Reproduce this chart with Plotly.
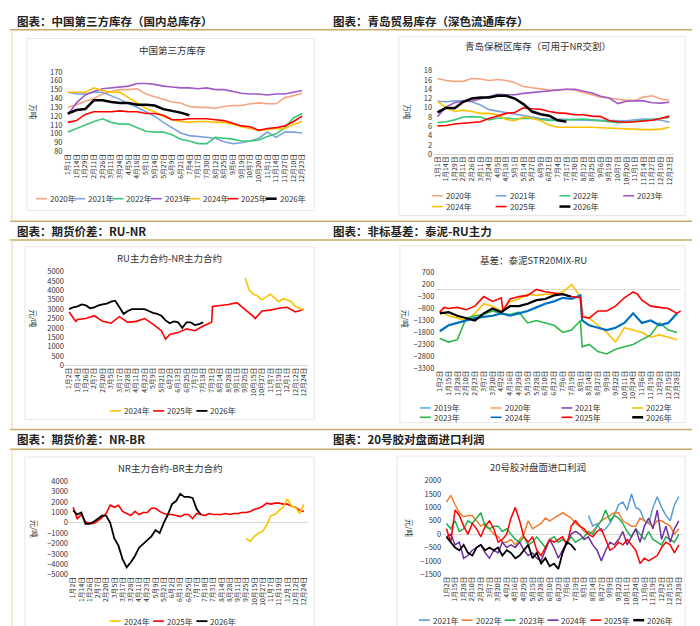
import plotly.graph_objects as go
import numpy as np

W, H = 700, 626

# ---------- data ----------
days_a = ['1月1日','1月14日','1月29日','2月11日','2月26日','3月11日','3月24日','4月5日','4月18日','5月1日',
          '5月14日','5月27日','6月9日','6月21日','7月4日','7月17日','7月30日','8月12日','8月25日','9月6日',
          '9月19日','10月7日','10月20日','11月1日','11月14日','11月27日','12月10日','12月23日']
days_b = ['1月2日','1月14日','1月26日','2月7日','2月20日','3月5日','3月17日','3月28日','4月11日','4月23日',
          '5月9日','5月21日','6月2日','6月13日','6月25日','7月7日','7月18日','7月31日','8月14日','8月28日',
          '9月11日','9月25日','10月15日','10月27日','11月7日','11月19日','12月1日','12月12日','12月24日']
days_c = ['1月2日','1月15日','1月28日','2月10日','2月23日','3月7日','3月20日','4月2日','4月16日','4月29日',
          '5月15日','5月28日','6月10日','6月23日','7月6日','7月19日','8月1日','8月14日','8月27日','9月9日',
          '9月22日','10月11日','10月24日','11月6日','11月19日','12月2日','12月15日','12月28日']

# 1: China third-party inventory (万吨)
inv_cn = {
    '2020年': [130,133,137,140,145,148,150,150,151,145,142,139,136,135,131,130,130,129,131,132,132,134,135,134,134,141,143,146],
    '2021年': [147,145,145,147,147,143,139,134,130,125,120,113,107,101,98,97,96,95,91,89,90,92,95,102,96,102,102,101],
    '2022年': [102,106,110,114,117,113,111,111,107,103,102,102,99,94,92,89,89,96,95,94,92,92,93,97,100,107,118,123],
    '2023年': [122,135,144,148,151,152,153,154,157,157,156,154,153,152,152,151,152,150,150,148,146,145,145,144,145,145,147,149],
    '2024年': [147,147,147,152,149,147,147,141,135,129,125,120,116,114,113,114,114,113,113,111,108,106,104,105,106,106,111,114],
    '2025年': [113,115,122,125,125,125,126,125,125,123,123,121,116,116,117,117,117,116,115,112,109,108,104,106,107,109,114,120],
    '2026年': [123,127,128,138,138,136,135,135,133,133,132,128,126,124,121],
}
# 2: Qingdao bonded inventory (万吨)
inv_qd = {
    '2020年': [16.3,15.9,15.7,15.7,16.3,16.2,15.9,16.1,15.9,15.4,14.6,14.3,14.1,13.8,13.9,14.0,13.8,13.3,12.8,12.3,12.1,11.9,11.6,11.6,12.3,12.6,11.9,11.6],
    '2021年': [11.4,11.3,11.5,11.5,11.3,10.6,9.6,9.3,8.9,8.6,8.4,8.1,7.7,7.6,7.6,7.5,7.4,7.3,7.3,7.3,7.3,7.2,7.2,7.4,7.6,7.5,7.3,6.9],
    '2022年': [6.8,7.0,7.4,8.0,8.1,8.0,7.4,7.8,7.8,7.6,7.7,7.7,7.5,7.3,7.3,7.4,7.6,7.6,7.4,7.2,7.0,6.8,6.9,7.1,7.3,7.4,7.7,7.9],
    '2023年': [8.1,10.2,11.1,11.4,11.4,11.9,12.4,12.9,12.8,12.8,13.1,13.3,13.4,13.7,13.9,14.0,14.0,13.6,13.2,12.5,12.1,10.9,11.4,11.5,11.5,11.1,11.0,11.2],
    '2024年': [11.4,10.1,9.2,9.5,9.2,8.8,8.8,8.5,7.5,7.2,8.0,7.8,7.2,6.3,5.8,5.8,5.9,5.9,5.8,5.7,5.6,5.6,5.5,5.4,5.3,5.3,5.4,5.8],
    '2025年': [6.1,6.2,6.5,6.7,6.9,7.0,7.7,8.2,8.8,9.0,10.0,9.8,9.7,9.2,8.9,8.8,8.5,8.5,8.2,8.1,7.2,7.0,6.9,7.0,7.1,7.3,7.7,8.2],
    '2026年': [9.0,10.0,9.9,11.3,12.0,12.2,12.2,12.6,12.6,12.0,10.8,9.2,8.6,8.3,7.3,7.0],
}
# 3: RU-NR spread (元/吨)
runr_2025_x = [0,0.8,1,2,3,4,5,6,7,8,9,10,11,11.5,12,13,14,15,16,17,17.1,18,19,20,21,22,22.2,23,24,25,26,27,28]
runr_2025 = [2850,2350,2450,2500,2650,2350,2250,2600,2300,2350,2500,2200,1850,1400,1650,1750,1950,1850,2100,2300,3150,
             3200,3250,3350,3000,2600,2500,2900,2950,3050,3100,2850,3000]
runr_2024 = [4650,4000,3800,3700,3500,3650,3800,3600,3400,3550,3500,3400,3150,3050,2950]   # from 9月25日, half steps
runr_2026 = [3000,3100,3150,3250,3200,3050,3100,3200,3250,3300,3400,3450,3100,2750,2900,3000,3000,3000,3000,2900,
             2800,2750,2650,2400,2250,2350,2300,2000,2300,2300,2150,2200,2300]
# 4: basis STR20MIX-RU (元/吨)
bx_a = sorted(list(range(0, 17)) + [16.2] + list(range(17, 28)))
basis = {
    '2019年': ([], []),
    '2020年': ([], []),
    '2021年': ([], []),
    '2022年': (sorted(list(range(0, 17)) + [16.3] + list(range(17, 28))),
              [-900,-1100,-1200,-1300,-1000,-600,-700,-900,-500,-400,-200,-250,-200,-200,-100,200,-300,
               -1100,-1200,-1500,-1800,-2200,-1600,-1700,-1800,-2000,-1900,-2000,-2100]),
    '2023年': (bx_a, [-2050,-2200,-2100,-1200,-1100,-1050,-900,-1000,-1050,-950,-1400,-1300,-1400,-1500,-1800,-1700,-1300,
                      -2400,-2300,-2600,-2700,-2500,-2400,-2300,-2100,-1900,-1400,-1700,-1800]),
    '2024年': (bx_a, [-1750,-1500,-1400,-1300,-1200,-1150,-1100,-1000,-1100,-1000,-900,-750,-600,-500,-350,-400,-250,
                      -1300,-1500,-1600,-1700,-1600,-1400,-1000,-1400,-1300,-1500,-1400,-1000]),
    '2025年': ([0,0.5,1,2,3,4,5,6,7,7.2,8,9,10,11,12,13,14,15,16,16.2,17,18,19,20,21,22,22.5,23,24,25,26,27,27.4],
              [-950,-750,-800,-750,-850,-700,-300,-500,-350,-900,-400,-300,-250,0,-100,-150,-200,-300,-350,-1150,
               -1200,-900,-900,-700,-350,-100,-200,-450,-700,-750,-800,-1000,-900]),
    '2026年': (list(range(0, 15)) + [14.9],
              [-1000,-950,-1100,-1200,-1300,-1000,-800,-950,-700,-700,-600,-450,-400,-250,-200,-300]),
}
# 5: NR-BR spread (元/吨), half steps
nrbr_2024 = [-1500,-1800,-1300,-1000,-800,-200,700,800,1200,1500,2300,1600,1500,900,1800]  # from 9月25日
nrbr_2025 = [1500,400,800,100,-50,-50,200,500,900,1700,1500,1700,1100,900,700,1100,800,1000,1000,1400,1400,1100,
             900,800,800,700,600,800,800,400,900,800,700,900,800,800,800,900,800,900,900,1000,1000,1100,1300,1400,
             1600,1900,1800,1900,1900,1800,1800,1600,1500,1200,1100]
nrbr_2026 = [1200,800,1000,-100,-100,100,400,700,700,0,-1500,-2200,-3500,-4300,-3800,-3200,-2400,-2000,-1600,
             -1300,-700,-1000,0,800,1800,2100,2800,2500,2500,2400,1300,800]
# 6: No.20 import profit (元/吨), half steps; (start index, values)
profit = {
    '2021年': (16.5, [700,300,400,100,200,400,700,1100,1200,900,1500,1000,900,500,400,1000,1400,1000,700,500,1100,1400]),
    '2022年': (0, [1200,1450,1100,800,650,700,700,500,300,400,200,0,-100,-300,-300,-200,-400,-200,0,500,200,300,400,600,
                   500,600,700,800,700,600,400,300,100,0,100,300,500,600,700,800,800,500,400,300,300,600,500,400,300,
                   500,500,400,300,0,200]),
    '2023年': (0, [400,200,500,100,200,500,400,600,800,300,200,300,300,100,200,0,-200,-300,-100,-400,-300,-100,-300,
                   -500,-200,-100,-300,-200,-300,-100,-300,-200,-100,100,0,300,500,900,500,700,600,400,100,-100,200,0,
                   -200,100,-200,-300,-400,-100,-200,-300,0]),
    '2024年': (0, [-100,0,-400,-300,-900,-800,-600,-500,-400,-700,-900,-600,-700,-300,-500,-400,-500,-300,-600,-800,
                   -700,-900,-1000,-600,-200,-500,-900,-600,-300,0,100,0,-200,-100,-400,-600,-1000,-600,-300,-400,-200,
                   100,-400,-100,200,-300,300,600,200,900,-200,300,-300,200,500]),
    '2025年': (0, [200,-300,900,700,300,0,400,200,-100,300,500,200,-300,-200,0,600,1000,500,-100,-300,-100,-600,-800,
                   -500,-200,-300,-200,-100,-400,300,500,300,200,0,-100,100,200,-200,-600,-500,-300,-400,-200,-400,-600,
                   -1100,-900,-1000,-900,-800,-500,-300,-400,-700,-400]),
    '2026年': (0, [-100,-300,-500,-600,-400,-700,-800,-500,-400,-600,-500,-600,-500,-800,-600,-700,-900,-800,-600,-400,
                   -900,-700,-1100,-900,-1200,-1100,-1300,-700,-300,-400,-600]),
}

c_inv = {'2020年': '#F4A582', '2021年': '#7BA3DC', '2022年': '#3CC87A', '2023年': '#A05AC8',
         '2024年': '#FFC000', '2025年': '#FF0000', '2026年': '#000000'}
c_basis = {'2019年': '#5BB0E8', '2020年': '#F4A460', '2021年': '#8E44AD', '2022年': '#FFC000',
           '2023年': '#2DB84B', '2024年': '#0070C0', '2025年': '#FF0000', '2026年': '#000000'}
c_prof = {'2021年': '#5B9BD5', '2022年': '#ED7D31', '2023年': '#22B04B', '2024年': '#7030A0',
          '2025年': '#FF0000', '2026年': '#000000'}

# ---------- helpers ----------
def px(x):
    return x / W

def py(y):
    return 1 - y / H

fig = go.Figure()
shapes, annos = [], []
FONT = 'Noto Sans CJK SC'

def add_axes(n, x_lo, x_hi, n_cat, labels, y_top, y_bot, v_top, v_bot, ticks):
    # x_lo/x_hi: pixel positions of first and last category
    step = (x_hi - x_lo) / (n_cat - 1)
    sfx = '' if n == 1 else str(n)
    fig.layout['xaxis' + sfx] = dict(
        domain=[px(x_lo - step / 2), px(x_hi + step / 2)], range=[-0.5, n_cat - 0.5], anchor='y' + sfx,
        tickvals=list(range(n_cat)), ticktext=labels, tickangle=-90, tickfont=dict(size=6.8, color='#333'),
        showgrid=False, zeroline=False, showline=False, ticks='', fixedrange=True)
    fig.layout['yaxis' + sfx] = dict(
        domain=[py(y_bot), py(y_top)], range=[v_bot, v_top], anchor='x' + sfx, tickvals=ticks,
        tickfont=dict(size=7.5, color='#333'), showgrid=False, zeroline=True, zerolinecolor='#D9D9D9',
        zerolinewidth=1, showline=False, ticks='', fixedrange=True)

def line(n, x, y, color, width=1.6):
    sfx = '' if n == 1 else str(n)
    fig.add_trace(go.Scatter(x=x, y=y, mode='lines', line=dict(color=color, width=width),
                             xaxis='x' + sfx, yaxis='y' + sfx, showlegend=False, hoverinfo='skip'))

def half(start, vals):
    return list(start + 0.5 * np.arange(len(vals)))

def legend(items, colors, x0, y0, dx, dy, ncol, blackw=2.5):
    for i, name in enumerate(items):
        x = x0 + (i % ncol) * dx
        y = y0 + (i // ncol) * dy
        w = blackw if colors[name] == '#000000' else 1.6
        shapes.append(dict(type='line', xref='paper', yref='paper', x0=px(x), x1=px(x + 11),
                           y0=py(y), y1=py(y), line=dict(color=colors[name], width=w)))
        annos.append(dict(text=name, x=px(x + 12), y=py(y), xref='paper', yref='paper', showarrow=False,
                          xanchor='left', yanchor='middle', font=dict(size=8, color='#333', family=FONT)))

def box(x0, y0, x1, y1):
    shapes.append(dict(type='rect', xref='paper', yref='paper', x0=px(x0), x1=px(x1), y0=py(y1), y1=py(y0),
                       line=dict(color='#E6E6E6', width=1), fillcolor='white', layer='below'))

def text(s, x, y, size, bold=False, angle=0, color='#333'):
    annos.append(dict(text='<b>%s</b>' % s if bold else s, x=px(x), y=py(y), xref='paper', yref='paper',
                      showarrow=False, xanchor='center' if not bold else 'left', yanchor='middle',
                      textangle=angle, font=dict(size=size, color=color, family=FONT)))

# ---------- panel 1 ----------
add_axes(1, 58, 293, 28, days_a, 59, 140, 170, 80, list(range(80, 171, 10)))
for k, v in inv_cn.items():
    line(1, list(range(len(v))), v, c_inv[k], 2.5 if k == '2026年' else 1.6)
box(17, 25, 305, 200)
text('中国第三方库存', 163, 37, 9.5)
text('万吨', 24, 100, 7.5, angle=90)
legend(list(inv_cn), c_inv, 26, 188, 38.4, 0, 7)

# ---------- panel 2 ----------
add_axes(2, 428.7, 661.3, 28, days_a, 57.7, 142.7, 18, 0, list(range(0, 19, 2)))
for k, v in inv_qd.items():
    line(2, list(range(len(v))), v, c_inv[k], 2.5 if k == '2026年' else 1.6)
box(390, 23, 677, 205)
text('青岛保税区库存（可用于NR交割）', 530, 33, 9.5)
text('万吨', 399, 100, 7.5, angle=90)
legend(list(inv_qd), c_inv, 423, 185, 64, 11, 4)

# ---------- panel 3 ----------
add_axes(3, 59.3, 294.7, 29, days_b, 262.3, 357.7, 5000, 0, list(range(0, 5001, 500)))
line(3, runr_2025_x, runr_2025, '#FF0000')
line(3, half(21, runr_2024), runr_2024, '#FFC000')
line(3, half(0, runr_2026), runr_2026, '#000000', 1.8)
box(15, 237, 305, 413)
text('RU主力合约-NR主力合约', 160, 248, 9.5)
text('元/吨', 24, 310, 7.5, angle=90)
legend(['2024年', '2025年', '2026年'], {'2024年': '#FFC000', '2025年': '#FF0000', '2026年': '#000000'},
       100, 404, 43.5, 0, 3, 1.8)

# ---------- panel 4 ----------
add_axes(4, 431, 669, 28, days_c, 263.3, 360.7, 700, -3300, list(range(-3300, 701, 500)))
for k in ['2019年', '2020年', '2021年', '2022年', '2023年', '2024年', '2025年', '2026年']:
    xs, ys = basis[k]
    if xs:
        line(4, xs, ys, c_basis[k], 2.2 if k in ('2026年', '2024年') else 1.6)
box(391, 236, 677, 416)
text('基差：泰泥STR20MIX-RU', 525, 250, 9.5)
text('元/吨', 397, 310, 7.5, angle=90)
legend(list(basis), c_basis, 411, 401, 71, 9.5, 4)

# ---------- panel 5 ----------
add_axes(5, 63.3, 294.7, 29, days_b, 475.7, 570.7, 4000, -5000, list(range(-5000, 4001, 1000)))
line(5, half(0, nrbr_2025), nrbr_2025, '#FF0000')
line(5, half(21, nrbr_2024), nrbr_2024, '#FFC000')
line(5, half(0, nrbr_2026), nrbr_2026, '#000000', 1.8)
box(15, 451, 305, 626)
text('NR主力合约-BR主力合约', 160, 462, 9.5)
text('元/吨', 24, 524, 7.5, angle=90)
legend(['2024年', '2025年', '2026年'], {'2024年': '#FFC000', '2025年': '#FF0000', '2026年': '#000000'},
       100, 618, 43.5, 0, 3, 1.8)

# ---------- panel 6 ----------
add_axes(6, 437.7, 670.7, 28, days_c, 475, 570.3, 2000, -1500, list(range(-1500, 2001, 500)))
for k, (s, v) in profit.items():
    line(6, half(s, v), v, c_prof[k], 1.8 if k == '2026年' else 1.5)
box(388, 450, 677, 626)
text('20号胶对盘面进口利润', 530, 461, 9.5)
text('元/吨', 400, 523, 7.5, angle=90)
legend(list(profit), c_prof, 410, 617, 43, 0, 6)

# ---------- page headers ----------
gold = '#C9A86A'
for y in [16, 211, 230, 423, 443]:
    shapes.append(dict(type='line', xref='paper', yref='paper', x0=0, x1=1, y0=py(y), y1=py(y),
                       line=dict(color=gold, width=1.5)))
for y in [(16, 211), (230, 423), (443, 626)]:
    for x in [2, 698]:
        shapes.append(dict(type='line', xref='paper', yref='paper', x0=px(x), x1=px(x), y0=py(y[0]), y1=py(y[1]),
                           line=dict(color='#E3D6B8', width=1)))
hdr = [('图表：中国第三方库存（国内总库存）', 5, 7), ('图表：青岛贸易库存（深色流通库存）', 322, 7),
       ('图表：期货价差：RU-NR', 5, 221), ('图表：非标基差：泰泥-RU主力', 322, 221),
       ('图表：期货价差：NR-BR', 5, 433), ('图表：20号胶对盘面进口利润', 322, 433)]
for s, x, y in hdr:
    text(s, x, y, 11.5, bold=True, color='#222')

fig.update_layout(width=W, height=H, margin=dict(l=0, r=0, t=0, b=0), paper_bgcolor='white',
                  plot_bgcolor='rgba(0,0,0,0)', showlegend=False, shapes=shapes, annotations=annos,
                  font=dict(family=FONT))
fig.write_html('out.html')
